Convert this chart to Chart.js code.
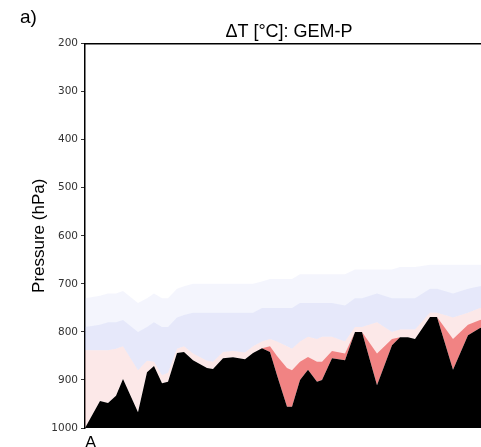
<!DOCTYPE html>
<html lang="en">
<head>
    <meta charset="UTF-8">
    <title>Delta T cross-section</title>
    <script src="https://cdn.jsdelivr.net/npm/chart.js"></script>
    <style>
        body {
            margin: 0;
            padding: 0;
            background: white;
            overflow: hidden;
            font-family: "Liberation Sans", Arial, sans-serif;
        }
        #wrap { position: relative; width: 481px; height: 447px; overflow: hidden; }
        #panel-label {
            position: absolute;
            left: 20px;
            top: 6px;
            font-size: 19px;
            color: black;
        }
        canvas { display: block; }
    </style>
</head>
<body>
    <div id="wrap">
        <canvas id="xsec" width="495" height="447"></canvas>
        <div id="panel-label">a)</div>
    </div>

    <script>
        // distance along the A-B transect (arbitrary units)
        const distance = [0, 15, 23, 31, 38, 53, 62, 69, 77, 83, 92, 99, 108, 122, 128, 138, 148, 160, 168, 177,
                          185, 192, 202, 207, 215, 223, 232, 237, 247, 260, 270, 277, 292, 307, 315, 323, 330, 345, 352, 368,
                          383, 395, 408];
        // surface pressure (terrain), hPa
        const terrain = [1000, 944, 948, 933, 898, 967, 884, 871, 907, 904, 844, 842, 859, 875, 877, 855, 853, 857, 844, 834,
                         842, 890, 956, 956, 900, 879, 904, 900, 855, 859, 800, 800, 911, 828, 811, 811, 815, 769, 769, 879,
                         807, 792, 785];
        // top of the strong warm (red) layer
        const warmCoreTop = [1000, 944, 948, 933, 898, 967, 884, 871, 907, 904, 844, 842, 859, 875, 877, 855, 853, 857, 844, 834,
                             830, 850, 875, 880, 862, 852, 862, 862, 840, 845, 800, 800, 845, 815, 811, 811, 815, 769, 769, 815,
                             785, 775, 770];
        // top of the weak warm (pink) layer
        const warmTop = [838, 838, 838, 835, 830, 880, 860, 862, 890, 885, 835, 830, 845, 860, 862, 842, 840, 843, 830, 820,
                         815, 820, 830, 835, 820, 810, 815, 810, 810, 820, 790, 790, 780, 800, 795, 795, 795, 760, 760, 770,
                         760, 750, 745];
        // top of the stronger cool (blue) layer
        const coolCoreTop = [790, 785, 780, 780, 775, 800, 790, 780, 790, 790, 770, 765, 760, 760, 760, 760, 760, 760, 760, 750,
                             750, 750, 750, 750, 740, 740, 740, 740, 740, 745, 730, 730, 720, 730, 730, 730, 730, 710, 710, 720,
                             710, 705, 700];
        // top of the weak cool (blue) layer
        const coolTop = [730, 725, 720, 720, 715, 740, 730, 720, 730, 730, 710, 705, 700, 700, 700, 700, 700, 700, 700, 695,
                         690, 690, 690, 690, 680, 680, 680, 680, 680, 680, 670, 670, 670, 670, 665, 665, 665, 660, 660, 660,
                         660, 660, 660];
        const pressureTicks = [200, 300, 400, 500, 600, 700, 800, 900, 1000];

        const toPoints = arr => arr.map((p, i) => ({ x: distance[i], y: p }));

        const xMax = distance[distance.length - 1];

        const band = (label, arr, color, target) => ({
            label: label,
            data: toPoints(arr),
            borderWidth: 0,
            pointRadius: 0,
            backgroundColor: color,
            fill: target,
            tension: 0
        });

        new Chart(document.getElementById("xsec").getContext("2d"), {
            type: "line",
            data: {
                datasets: [
                    band("terrain", terrain, "black", { value: 1000 }),
                    band("warm core", warmCoreTop, "rgba(234, 70, 70, 0.62)", 0),
                    band("warm", warmTop, "rgba(240, 140, 140, 0.2)", 0),
                    band("cool core", coolCoreTop, "rgba(150, 160, 235, 0.15)", 2),
                    band("cool", coolTop, "rgba(165, 172, 238, 0.12)", 2)
                ]
            },
            options: {
                responsive: false,
                animation: false,
                layout: { padding: { left: 0, right: 2, top: 0, bottom: 0 } },
                plugins: {
                    legend: { display: false },
                    tooltip: { enabled: false },
                    title: {
                        display: true,
                        text: "ΔT [°C]: GEM-P",
                        fullSize: false,
                        color: "black",
                        font: { family: "Liberation Sans", size: 18, weight: "normal" },
                        padding: { top: 21, bottom: 1 }
                    }
                },
                scales: {
                    x: {
                        type: "linear",
                        position: "bottom",
                        min: 0,
                        max: xMax,
                        grid: { display: false },
                        border: { display: false },
                        afterBuildTicks: axis => { axis.ticks = [{ value: 0 }]; },
                        afterFit: axis => { axis.height = 19; },
                        ticks: {
                            callback: () => "A",
                            align: "start",
                            padding: -3,
                            maxRotation: 0,
                            autoSkip: false,
                            color: "black",
                            font: { family: "Liberation Sans", size: 17 }
                        }
                    },
                    xTop: {
                        type: "linear",
                        position: "top",
                        min: 0,
                        max: xMax,
                        grid: { display: false },
                        ticks: { display: false },
                        border: { display: true, color: "black", width: 1.5 },
                        afterFit: axis => { axis.height = 0; }
                    },
                    y: {
                        type: "linear",
                        reverse: true,
                        min: 200,
                        max: 1000,
                        afterBuildTicks: axis => { axis.ticks = pressureTicks.map(v => ({ value: v })); },
                        afterFit: axis => { axis.width = 85; },
                        grid: {
                            drawOnChartArea: false,
                            drawTicks: true,
                            tickLength: 4,
                            color: "#333",
                            lineWidth: 1
                        },
                        border: { display: true, color: "black", width: 1.5 },
                        ticks: {
                            color: "#333",
                            padding: 3,
                            callback: v => String(v),
                            font: { family: "DejaVu Sans", size: 10.5 }
                        },
                        title: {
                            display: true,
                            text: "Pressure (hPa)",
                            color: "black",
                            font: { family: "Liberation Sans", size: 17 },
                            padding: { top: 29, bottom: 4 }
                        }
                    }
                }
            }
        });
    </script>
</body>
</html>
